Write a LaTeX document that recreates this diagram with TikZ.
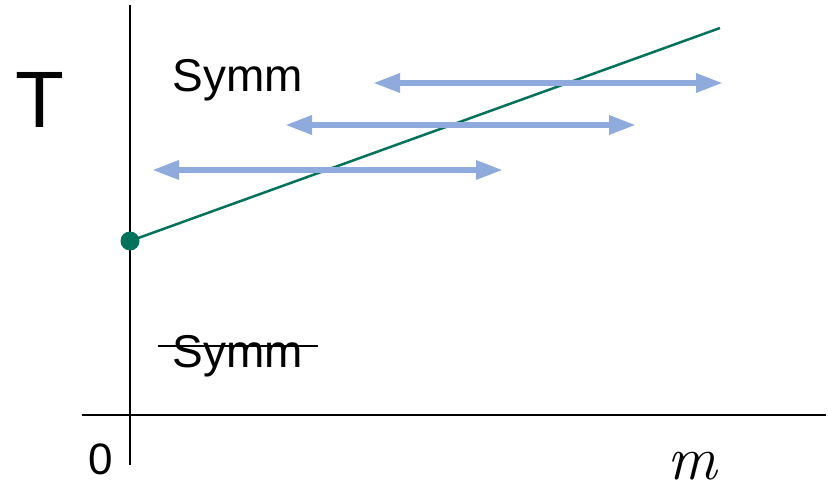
\documentclass[tikz,border=0pt]{standalone}
\usepackage{fontspec}
\setsansfont{Liberation Sans}
\usetikzlibrary{arrows.meta}
\definecolor{linegreen}{HTML}{00735A}
\definecolor{arrowblue}{HTML}{8FAADC}
\tikzset{
  axis/.style={line width=2.8pt, black},
  phaseline/.style={line width=2.5pt, linegreen},
  sweep/.style={line width=6pt, arrowblue,
    {Triangle[length=27pt,width=18pt]}-{Triangle[length=27pt,width=18pt]}},
  label/.style={inner sep=0pt, font=\sffamily},
}
\begin{document}
\begin{tikzpicture}[x=1pt, y=-1pt]
  \useasboundingbox (0,0) rectangle (828,494);
  % axes
  \coordinate (ytop) at (130,5);
  \coordinate (ybot) at (130,465);
  \coordinate (xleft) at (82,415);
  \coordinate (xright) at (826,415);
  \draw[axis] (ybot) -- (ytop);
  \draw[axis] (xleft) -- (xright);
  % transition line starting on the T axis
  \coordinate (tc) at (130,241);
  \coordinate (lineend) at (720,28);
  \draw[phaseline] (tc) -- (lineend);
  \fill[linegreen] (tc) circle (9.5);
  % horizontal sweeps
  \coordinate (a1l) at (373,83);  \coordinate (a1r) at (723,83);
  \coordinate (a2l) at (285,125); \coordinate (a2r) at (636,125);
  \coordinate (a3l) at (152,170); \coordinate (a3r) at (503,170);
  \draw[sweep] (a1l) -- (a1r);
  \draw[sweep] (a2l) -- (a2r);
  \draw[sweep] (a3l) -- (a3r);
  % labels
  \node[label, font=\sffamily\fontsize{80}{90}\selectfont] (tlab) at (40,100) {T};
  \node[label, font=\sffamily\fontsize{46}{52}\selectfont] (symm) at (238,80) {Symm};
  \node[label, font=\sffamily\fontsize{46}{52}\selectfont] (nosymm) at (238,356) {Symm};
  \coordinate (s1) at (158,346);
  \coordinate (s2) at (318,346);
  \draw[line width=2.4pt] (s1) -- (s2);
  \node[label, font=\sffamily\fontsize{44}{50}\selectfont] (zero) at (101,459) {0};
  \node[label, font=\rmfamily\itshape\fontsize{62}{66}\selectfont] (mlab) at (692,466) {m};
\end{tikzpicture}
\end{document}
